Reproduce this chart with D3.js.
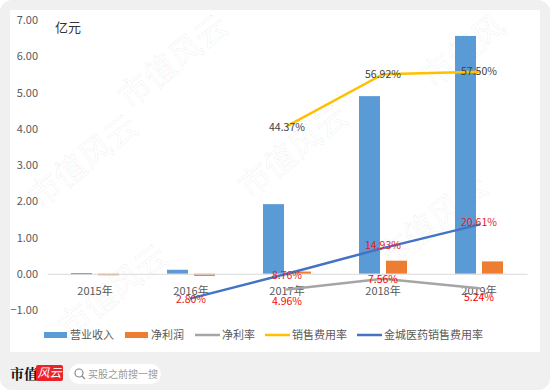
<!DOCTYPE html>
<html><head><meta charset="utf-8">
<script src="https://cdn.jsdelivr.net/npm/d3@7/dist/d3.min.js"></script>
<style>
html,body{margin:0;padding:0;background:#fff;}
svg{display:block;font-family:"Noto Sans CJK SC","Noto Sans",sans-serif;}
</style></head><body>
<svg id="c" width="550" height="390"></svg>
<script>
const categories = ["2015年","2016年","2017年","2018年","2019年"];
const revenue = [0.02, 0.11, 1.92, 4.90, 6.56];
const netProfit = [-0.02, -0.06, 0.06, 0.36, 0.34];
const netMargin = [null, null, 4.96, 7.56, 5.24];
const salesExpRate = [null, null, 44.37, 56.92, 57.50];
const jcSalesExpRate = [null, 2.80, 8.76, 14.93, 20.61];
const yTicks = [-1, 0, 1, 2, 3, 4, 5, 6, 7];
const legendNames = ["营业收入","净利润","净利率","销售费用率","金城医药销售费用率"];

(function(){
const svg = d3.select("#c");
svg.append("rect").attr("x",0).attr("y",0).attr("width",550).attr("height",390).attr("rx",12).attr("fill","#f0f0f0");
svg.append("rect").attr("x",10).attr("y",10).attr("width",530).attr("height",342).attr("fill","#fff");

const wm = svg.append("g").attr("fill","none").attr("stroke","#000").attr("stroke-opacity",0.07).attr("stroke-width",0.8).attr("font-size",32);
[[180,70,"市值风云"],[470,60,"市值风"],[90,170,"市值风云"],[300,160,"市值风云"],[440,230,"市值风云"],[120,300,"市值风云"]].forEach(d=>{
  wm.append("text").attr("transform",`translate(${d[0]},${d[1]}) rotate(-38)`).attr("text-anchor","middle").text(d[2]);
});

const pL = 47, pR = 527, pT = 20, pB = 310;
const x = d3.scaleBand().domain(categories).range([pL,pR]);
const y = d3.scaleLinear().domain([-1,7]).range([pB,pT]);
const yR = d3.scaleLinear().domain([0,70]).range([pB,pT]);
const cx = c => x(c) + x.bandwidth()/2;

const ya = svg.append("g").attr("transform",`translate(${pL},0)`)
  .call(d3.axisLeft(y).tickValues(yTicks).tickFormat(d3.format(".2f")).tickSize(0).tickPadding(9));
ya.select(".domain").remove();
ya.selectAll("text").attr("fill","#595959").attr("font-size",11).attr("font-family","'Noto Sans CJK SC',sans-serif");

svg.append("text").attr("x",55).attr("y",32).attr("font-size",13).attr("fill","#333").text("亿元");

const bw = 21, gap = 3;
const g = svg.append("g");
g.selectAll(".rev").data(categories).join("rect")
  .attr("x",c=>cx(c)-gap-bw).attr("width",bw)
  .attr("y",(c,i)=>y(Math.max(0,revenue[i]))).attr("height",(c,i)=>Math.max(1.5,Math.abs(y(revenue[i])-y(0))))
  .attr("fill","#5B9BD5");
g.selectAll(".np").data(categories).join("rect")
  .attr("x",c=>cx(c)+gap).attr("width",bw)
  .attr("y",(c,i)=>y(Math.max(0,netProfit[i]))).attr("height",(c,i)=>Math.max(1.5,Math.abs(y(netProfit[i])-y(0))))
  .attr("fill","#ED7D31");

const xa = svg.append("g").attr("transform",`translate(0,${y(0)})`)
  .call(d3.axisBottom(x).tickSize(0).tickPadding(13));
xa.select(".domain").attr("stroke","#d9d9d9").attr("stroke-width",1);
xa.selectAll("text").attr("fill","#595959").attr("font-size",11).attr("font-family","'Noto Sans CJK SC',sans-serif");

const lineGen = d3.line().defined(d=>d.v!=null).x(d=>cx(d.c)).y(d=>yR(d.v));
const series = [
  {vals:netMargin, color:"#A5A5A5", lab:"#FF0000", dy:[0,0,12,1,9]},
  {vals:salesExpRate, color:"#FFC000", lab:"#404040", dy:[0,0,1,0,0]},
  {vals:jcSalesExpRate, color:"#4472C4", lab:"#E31A1C", dy:[0,1,2,-3,-2]}
];
series.forEach(s=>{
  const pts = categories.map((c,i)=>({c, v:s.vals[i]}));
  svg.append("path").datum(pts).attr("d",lineGen).attr("fill","none")
    .attr("stroke",s.color).attr("stroke-width",2.5).attr("stroke-linecap","round");
});
series.forEach(s=>{
  categories.forEach((c,i)=>{
    if(s.vals[i]==null) return;
    svg.append("text").attr("x",cx(c)).attr("y",yR(s.vals[i])+s.dy[i]).attr("dy","0.35em")
      .attr("text-anchor","middle").attr("font-size",10.5).attr("fill",s.lab)
      .text(s.vals[i].toFixed(2)+"%");
  });
});

const lg = svg.append("g").attr("font-size",11).attr("fill","#595959");
const lx = [44,125,195,265,357];
const lcol = ["#5B9BD5","#ED7D31","#A5A5A5","#FFC000","#4472C4"];
legendNames.forEach((n,i)=>{
  if(i<2) lg.append("rect").attr("x",lx[i]).attr("y",332).attr("width",23).attr("height",6).attr("fill",lcol[i]);
  else lg.append("line").attr("x1",lx[i]).attr("x2",lx[i]+25).attr("y1",335).attr("y2",335).attr("stroke",lcol[i]).attr("stroke-width",2.5);
  lg.append("text").attr("x",lx[i]+(i<2?26:27)).attr("y",335).attr("dy","0.35em").text(n);
});

svg.append("text").attr("x",10).attr("y",379).attr("font-size",14).attr("font-weight","bold").attr("fill","#111")
  .attr("font-family","'Noto Serif CJK SC','Noto Sans CJK SC',serif").text("市值");
svg.append("rect").attr("x",36).attr("y",365).attr("width",27).attr("height",16).attr("rx",2).attr("fill","#e8232a");
svg.append("text").attr("x",49.5).attr("y",377).attr("text-anchor","middle").attr("font-size",12).attr("font-style","italic").attr("fill","#fff").text("风云");
svg.append("rect").attr("x",69).attr("y",364).attr("width",92).attr("height",20).attr("rx",10).attr("fill","#fff");
svg.append("circle").attr("cx",79).attr("cy",373).attr("r",4).attr("fill","none").attr("stroke","#888").attr("stroke-width",1.2);
svg.append("line").attr("x1",82).attr("y1",376).attr("x2",85).attr("y2",379).attr("stroke","#888").attr("stroke-width",1.2);
svg.append("text").attr("x",88).attr("y",374).attr("dy","0.35em").attr("font-size",10).attr("fill","#999").text("买股之前搜一搜");
})();
</script>
</body></html>
